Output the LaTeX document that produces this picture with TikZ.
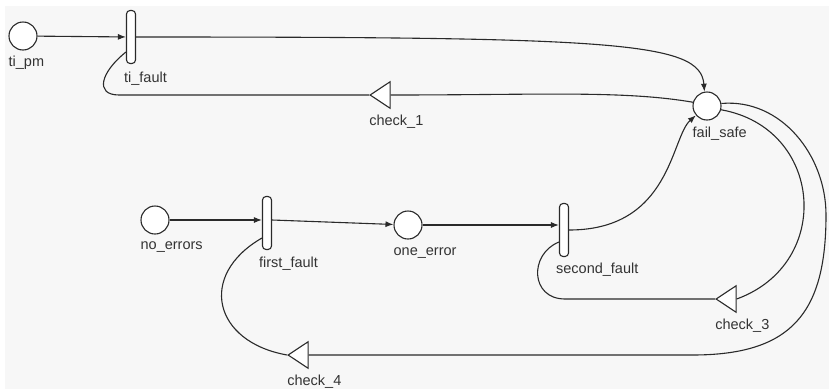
\documentclass[tikz,border=0pt]{standalone}
\usepackage{fontspec}
\setmainfont{Liberation Sans}
\usepackage{xcolor}
\usepackage{tikz}
\usetikzlibrary{shapes.geometric, arrows.meta, positioning, calc}

\definecolor{netbg}{HTML}{F7F7F7}
\definecolor{netline}{HTML}{2A2A2A}
\definecolor{nettext}{HTML}{333333}

\begin{document}
\begin{tikzpicture}[x=1pt, y=1pt]
        \tikzstyle{place} = [circle, draw=netline, line width=1.1pt, fill=white, minimum size=28pt, inner sep=0pt]
        \tikzstyle{trans} = [rectangle, rounded corners=3.5pt, draw=netline, line width=1.1pt, fill=white, minimum width=9pt, minimum height=53pt, inner sep=0pt]
        \tikzstyle{check} = [isosceles triangle, shape border rotate=180, isosceles triangle apex angle=67, draw=netline, line width=1.1pt, fill=white, minimum height=20pt, inner sep=0pt]
        \tikzstyle{lbl} = [anchor=base west, inner sep=0pt, text=nettext, font=\fontsize{14.5}{16}\selectfont]
        \tikzstyle{flow} = [netline, line width=1.1pt, -{Latex[length=8pt,width=6pt]}]
        \tikzstyle{testarc} = [netline, line width=1.1pt]

        \useasboundingbox (0,0) rectangle (829,-389);
        \fill [netbg] (5,-6) rectangle (829,-389);

        % places and transitions
        \node (ti_pm) [place] at (23,-36) {};
        \node (ti_fault) [trans] at (131,-37) {};
        \node (check_1) [check] at (383,-95) {};
        \node (fail_safe) [place] at (707,-106) {};
        \node (no_errors) [place] at (155,-220) {};
        \node (first_fault) [trans] at (267,-223) {};
        \node (one_error) [place] at (408,-225) {};
        \node (second_fault) [trans] at (564,-230) {};
        \node (check_3) [check] at (729,-299) {};
        \node (check_4) [check] at (301,-355) {};

        % labels
        \node (ti_pm_l) [lbl] at ([yshift=-30pt]ti_pm.west) {ti\_pm};
        \node (ti_fault_l) [lbl] at ([xshift=-2pt,yshift=-45pt]ti_fault.west) {ti\_fault};
        \node (check_1_l) [lbl] at ([yshift=-30pt]check_1.west) {check\_1};
        \node (fail_safe_l) [lbl] at ([yshift=-31pt]fail_safe.west) {fail\_safe};
        \node (no_errors_l) [lbl] at ([yshift=-29pt]no_errors.west) {no\_errors};
        \node (first_fault_l) [lbl] at ([xshift=-3pt,yshift=-44pt]first_fault.west) {first\_fault};
        \node (one_error_l) [lbl] at ([yshift=-30pt]one_error.west) {one\_error};
        \node (second_fault_l) [lbl] at ([xshift=-3pt,yshift=-43pt]second_fault.west) {second\_fault};
        \node (check_3_l) [lbl] at ([yshift=-30pt]check_3.west) {check\_3};
        \node (check_4_l) [lbl] at ([yshift=-30pt]check_4.west) {check\_4};

        \coordinate (east_bend) at (826,-215);

        \draw [flow] (ti_pm) -- (ti_fault);
        \draw [flow] (ti_fault.east) .. controls +(480,0) and +(-4,50) .. (fail_safe.100);
        \draw [testarc] (fail_safe.165) .. controls +(-70,12) and +(150,0) .. (check_1.east);
        \draw [testarc] (check_1.west) -- ++(-250,0) .. controls +(-25,0) and +(-25,-20) .. ([yshift=-15pt]ti_fault.west);

        \draw [flow] (no_errors.east) -- (no_errors.east -| first_fault.west);
        \draw [flow] (first_fault.east |- no_errors) -- (one_error);
        \draw [flow] (one_error.east) -- (one_error.east -| second_fault.west);
        \draw [flow] (second_fault.east) .. controls +(102,0) and +(-25,-22) .. (fail_safe.220);

        \draw [testarc] (fail_safe.-15) to[out=-10, in=20, looseness=1.4] (check_3.east);
        \draw [testarc] (check_3.west) -- ++(-150,0) .. controls +(-35,0) and +(-30,-12) .. ([yshift=-12pt]second_fault.west);
        \draw [testarc] (fail_safe.10) to[out=5, in=90] (east_bend) to[out=-90, in=0, looseness=1.3] (check_4.east -| fail_safe.west) -- (check_4.east);
        \draw [testarc] (check_4.west) to[out=170, in=210, looseness=1.6] ([yshift=-15pt]first_fault.west);
    \end{tikzpicture}
\end{document}
